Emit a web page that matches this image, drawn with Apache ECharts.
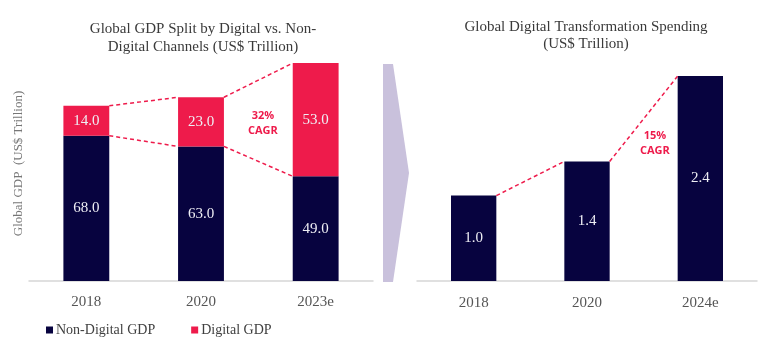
<!DOCTYPE html>
<html>
<head>
<meta charset="utf-8">
<script src="https://cdn.jsdelivr.net/npm/echarts@6/dist/echarts.min.js"></script>
<style>
  html, body { margin: 0; padding: 0; background: #ffffff; }
  #chart { width: 768px; height: 343px; }
</style>
</head>
<body>
<div id="chart"></div>
<script>
// GDP split by channel (US$ trillion)
const gdpYears = ['2018', '2020', '2023e'];
const nonDigitalGdp = [68.0, 63.0, 49.0];
const digitalGdp = [14.0, 23.0, 53.0];
const gdpCagr = '32%\nCAGR';

// Digital transformation spending (US$ trillion)
const spendYears = ['2018', '2020', '2024e'];
const spending = [1.0, 1.4, 2.4];
const spendCagr = '15%\nCAGR';

const NAVY = '#07033f';
const RED = '#ee1b4b';
const SERIF = '"Liberation Serif", "DejaVu Serif", serif';
const SANS = '"Open Sans", "Noto Sans", sans-serif';

const gdpTotals = nonDigitalGdp.map((v, i) => v + digitalGdp[i]);

// Dashed connector between the top corners of neighbouring bars
function connector(values, axisIdx) {
  return {
    type: 'custom',
    xAxisIndex: axisIdx,
    yAxisIndex: axisIdx,
    silent: true,
    z: 5,
    data: values.map((v, i) => [i, v]),
    renderItem: function (params, api) {
      const i = params.dataIndex;
      if (i >= values.length - 1) return null;
      const band = api.size([1, 0])[0];
      const half = band * 0.4 / 2;
      const a = api.coord([i, values[i]]);
      const b = api.coord([i + 1, values[i + 1]]);
      return {
        type: 'line',
        shape: { x1: a[0] + half, y1: a[1], x2: b[0] - half, y2: b[1] },
        style: { stroke: RED, lineWidth: 1.5, lineDash: [4, 3] }
      };
    }
  };
}

const chart = echarts.init(document.getElementById('chart'), null, { renderer: 'canvas' });

const barLabel = {
  show: true,
  position: 'inside',
  color: '#eeeef4',
  fontFamily: SERIF,
  fontSize: 15,
  formatter: p => p.value.toFixed(1)
};

chart.setOption({
  backgroundColor: '#ffffff',
  animation: false,
  title: [
    {
      text: 'Global GDP Split by Digital vs. Non-\nDigital Channels (US$ Trillion)',
      left: 198, top: 15, textAlign: 'center',
      textStyle: { fontFamily: SERIF, fontSize: 15, fontWeight: 'normal', color: '#3a3a3a', lineHeight: 18 }
    },
    {
      text: 'Global Digital Transformation Spending\n(US$ Trillion)',
      left: 581, top: 14, textAlign: 'center',
      textStyle: { fontFamily: SERIF, fontSize: 15, fontWeight: 'normal', color: '#3a3a3a', lineHeight: 17 }
    }
  ],
  legend: {
    data: ['Non-Digital GDP', 'Digital GDP'],
    left: 41, top: 318,
    icon: 'rect', itemWidth: 7, itemHeight: 7, itemGap: 36,
    textStyle: { fontFamily: SERIF, fontSize: 14, color: '#404040', padding: [0, 0, 0, -2] }
  },
  grid: [
    { left: 29, right: 395, top: 46, bottom: 62 },
    { left: 417, right: 11, top: 59, bottom: 62 }
  ],
  xAxis: [
    {
      type: 'category', gridIndex: 0, data: gdpYears,
      axisLine: { lineStyle: { color: '#d6d6d6', width: 1.5 } },
      axisTick: { show: false },
      axisLabel: { margin: 14, fontFamily: SERIF, fontSize: 15, color: '#555555' }
    },
    {
      type: 'category', gridIndex: 1, data: spendYears,
      axisLine: { lineStyle: { color: '#d6d6d6', width: 1.5 } },
      axisTick: { show: false },
      axisLabel: { margin: 15, fontFamily: SERIF, fontSize: 15, color: '#555555' }
    }
  ],
  yAxis: [
    {
      type: 'value', gridIndex: 0, min: 0, max: 110,
      name: 'Global GDP  (US$ Trillion)',
      nameLocation: 'middle', nameGap: 4, nameRotate: 90,
      nameTextStyle: { fontFamily: SERIF, fontSize: 13, color: '#777777' },
      axisLine: { show: false }, axisTick: { show: false },
      axisLabel: { show: false }, splitLine: { show: false }
    },
    {
      type: 'value', gridIndex: 1, min: 0, max: 2.6,
      axisLine: { show: false }, axisTick: { show: false },
      axisLabel: { show: false }, splitLine: { show: false }
    }
  ],
  series: [
    {
      name: 'Non-Digital GDP', type: 'bar', stack: 'gdp',
      xAxisIndex: 0, yAxisIndex: 0, barWidth: '40%',
      itemStyle: { color: NAVY },
      label: barLabel,
      data: nonDigitalGdp
    },
    {
      name: 'Digital GDP', type: 'bar', stack: 'gdp',
      xAxisIndex: 0, yAxisIndex: 0, barWidth: '40%',
      itemStyle: { color: RED },
      label: barLabel,
      data: digitalGdp
    },
    {
      name: 'Spending', type: 'bar',
      xAxisIndex: 1, yAxisIndex: 1, barWidth: '40%',
      itemStyle: { color: NAVY },
      label: barLabel,
      data: spending
    },
    connector(gdpTotals, 0),
    connector(nonDigitalGdp, 0),
    connector(spending, 1)
  ],
  graphic: [
    {
      type: 'polygon', silent: true,
      shape: { points: [[383, 64], [393, 64], [409, 173], [393, 282], [383, 282]] },
      style: { fill: '#c9c1dc' }
    },
    {
      type: 'text', left: 248, top: 108, silent: true,
      style: { text: gdpCagr, fill: RED, font: 'bold 11px ' + SANS, textAlign: 'center', lineHeight: 15 }
    },
    {
      type: 'text', left: 640, top: 128, silent: true,
      style: { text: spendCagr, fill: RED, font: 'bold 11px ' + SANS, textAlign: 'center', lineHeight: 15 }
    }
  ]
});
</script>
</body>
</html>
